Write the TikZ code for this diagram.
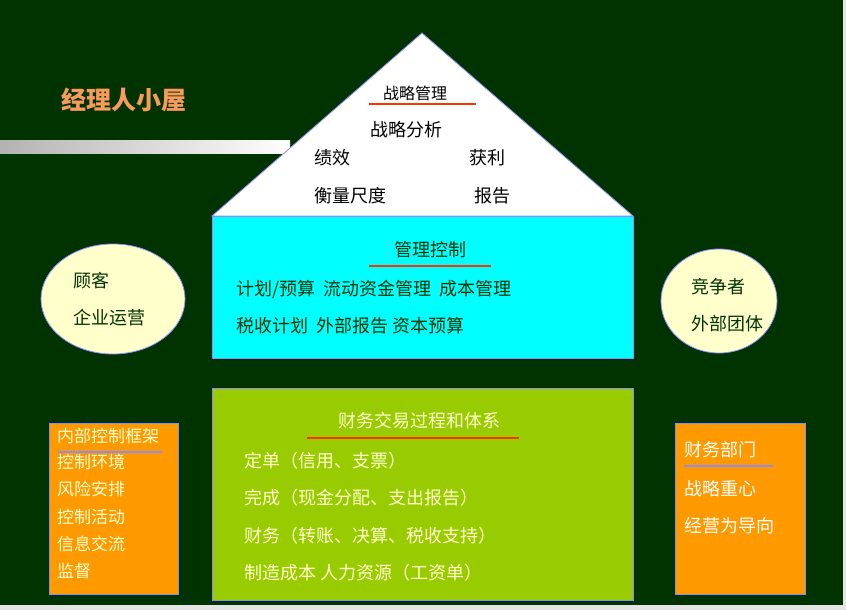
\documentclass[tikz,border=0pt]{standalone}
\usepackage{fontspec}
\setmainfont{Noto Sans CJK SC}
\newfontfamily\cjk{Noto Sans CJK SC}
\begin{document}
\begin{tikzpicture}[x=1pt,y=-1pt,
  box/.style={draw=blue!45!white,line width=0.8pt},
  tx/.style={font=\cjk\fontsize{18}{20}\selectfont,inner sep=0pt,anchor=west},
  ul/.style={line width=1.4pt}]
\definecolor{bg}{HTML}{003300}
\definecolor{cy}{HTML}{00FFFF}
\definecolor{lg}{HTML}{99CC00}
\definecolor{og}{HTML}{FF9900}
\definecolor{ye}{HTML}{FFFFCC}
\definecolor{ti}{HTML}{F79A5A}
\definecolor{rl}{HTML}{FF3300}
\fill[gray!20] (0,0) rectangle (846,610);
\fill[bg] (0,0) rectangle (843,605);
\useasboundingbox (0,0) rectangle (846,610);
\shade[left color=gray!60,right color=white] (0,140) rectangle (290,153);
\node[font=\cjk\bfseries\fontsize{25}{27}\selectfont,text=ti,anchor=west] (title) at (58,100) {经理人小屋};
% roof
\filldraw[box,fill=white] (422,33) -- (633,216) -- (212,216) -- cycle;
\node[tx,anchor=center,font=\cjk\fontsize{16}{18}\selectfont] (sm) at (415,93) {战略管理};
\draw[ul,rl] (369,104) -- (476,104);
\node[tx,anchor=center] (fx) at (406,130) {战略分析};
\node[tx] (jx) at (314,158) {绩效};
\node[tx] (hl) at (469,158) {获利};
\node[tx] (hl2) at (314,196) {衡量尺度};
\node[tx] (bg2) at (474,196) {报告};
% cyan
\filldraw[box,fill=cy] (212,216) rectangle (633,358);
\node[tx,anchor=center,text=bg] (gl) at (430,250) {管理控制};
\draw[ul,rl] (369,266) -- (491,266);
\node[tx,text=bg] (c1) at (236,289) {计划/预算\ \ 流动资金管理\ \ 成本管理};
\node[tx,text=bg] (c2) at (236,326) {税收计划\ \ 外部报告\ 资本预算};
% green
\filldraw[box,fill=lg] (212,388) rectangle (633,600);
\node[tx,anchor=center,text=ye] (g0) at (419,421) {财务交易过程和体系};
\draw[ul,rl] (307,438) -- (519,438);
\node[tx,text=ye] (g1) at (244,461) {定单（信用、支票）};
\node[tx,text=ye] (g2) at (244,498) {完成（现金分配、支出报告）};
\node[tx,text=ye] (g3) at (244,536) {财务（转账、决算、税收支持）};
\node[tx,text=ye] (g4) at (244,573) {制造成本\ 人力资源（工资单）};
% ellipses
\filldraw[box,fill=ye] (113,299) ellipse (72 and 55);
\node[tx,text=bg] (e1) at (73,281) {顾客};
\node[tx,text=bg] (e2) at (73,318) {企业运营};
\filldraw[box,fill=ye] (719,301) ellipse (58 and 52);
\node[tx,text=bg] (e3) at (691,287) {竞争者};
\node[tx,text=bg] (e4) at (691,324) {外部团体};
% left orange
\filldraw[box,fill=og] (49,423) rectangle (178,594);
\node[tx,text=ye,font=\cjk\fontsize{17}{19}\selectfont] (l0) at (57,436) {内部控制框架};
\draw[ul,blue!45!white] (58,452) -- (162,452);
\node[tx,text=ye,font=\cjk\fontsize{17}{19}\selectfont] (l1) at (57,462) {控制环境};
\node[tx,text=ye,font=\cjk\fontsize{17}{19}\selectfont] (l2) at (57,489) {风险安排};
\node[tx,text=ye,font=\cjk\fontsize{17}{19}\selectfont] (l3) at (57,517) {控制活动};
\node[tx,text=ye,font=\cjk\fontsize{17}{19}\selectfont] (l4) at (57,544) {信息交流};
\node[tx,text=ye,font=\cjk\fontsize{17}{19}\selectfont] (l5) at (57,571) {监督};
% right orange
\filldraw[box,fill=og] (675,423) rectangle (805,594);
\node[tx,text=white] (r0) at (684,450) {财务部门};
\draw[ul,blue!45!white] (684,466) -- (773,466);
\node[tx,text=white] (r1) at (684,489) {战略重心};
\node[tx,text=white] (r2) at (684,526) {经营为导向};
\end{tikzpicture}
\end{document}
